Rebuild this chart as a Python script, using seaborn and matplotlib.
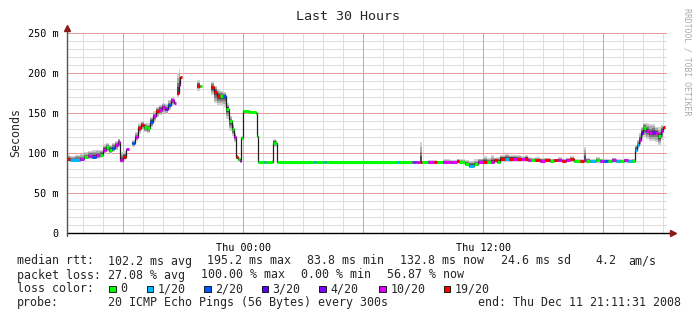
import numpy as np
import pandas as pd
import matplotlib
matplotlib.use("Agg")
import matplotlib.pyplot as plt
import seaborn as sns
from matplotlib.ticker import FixedLocator, FuncFormatter, NullLocator
from matplotlib.patches import Rectangle

# ---- data (hours relative to Thu 00:00, median rtt in ms, loss bucket, smoke range) ----
hours = [-8.80, -8.65, -8.40, -8.15, -7.95, -7.75, -7.55, -7.35, -7.15, -7.00,
         -6.85, -6.70, -6.55, -6.40, -6.25, -6.15, -6.00, -5.85, -5.70, -5.55,
         -5.40, -5.25, -5.10, -4.95, -4.80, -4.65, -4.50, -4.35, -4.20, -4.05,
         -3.90, -3.75, -3.60, -3.45, -3.35, -3.30, -3.22, -3.15, -3.07, -2.30,
         -2.17, -2.05, -1.60, -1.45, -1.30, -1.15, -1.00, -0.85, -0.70, -0.55,
         -0.45, -0.37, -0.27, -0.17, -0.10, 0.00, 0.30, 0.65, 0.70, 0.75,
         1.05, 1.15, 1.45, 1.50, 1.62, 1.67, 3.55, 3.65, 4.05, 4.15,
         7.70, 7.80, 8.45, 8.55, 8.65, 8.85, 8.95, 9.25, 9.55, 9.70,
         10.00, 10.35, 10.70, 10.80, 11.10, 11.30, 11.55, 11.75, 12.00, 12.20,
         12.40, 12.55, 12.70, 12.85, 13.10, 13.30, 13.50, 13.70, 13.90, 14.10,
         14.25, 14.40, 14.60, 14.85, 15.10, 15.35, 15.55, 15.75, 15.95, 16.15,
         16.35, 16.55, 16.85, 17.05, 17.15, 17.35, 17.65, 17.85, 18.05, 18.25,
         18.45, 18.65, 18.85, 19.05, 19.25, 19.45, 19.60, 19.70, 19.80, 19.90,
         20.00, 20.15, 20.30, 20.45, 20.60, 20.75, 20.90, 21.00, 21.10]
nan = float("nan")
median_ms = [92, 91, 91, 92, 95, 96, 95, 97, 98, 104,
             107, 104, 106, 110, 114, 91, 95, 105, nan, 112,
             120, 131, 135, 132, 131, 139, 146, 152, 154, 157,
             155, 160, 166, 162, nan, 175, 185, 195, nan, 184,
             184, nan, 182, 176, 171, 171, 171, 155, 140, 130,
             120, 95, 92, 90, 119, 152, 151, 150, 121, 89,
             89, 89, 89, 113, 112, 89, 89, 89, 89, 89,
             89, 89, 89, 89, 89, 89, 89, 89, 89, 89,
             89, 89, 90, 89, 86, 84, 86, 89, 89, 89,
             89, 91, 89, 93, 93, 93, 93, 92, 92, 93,
             91, 91, 91, 90, 91, 90, 91, 91, 90, 91,
             92, 90, 90, 91, 90, 90, 91, 90, 90, 90,
             91, 90, 90, 91, 90, 90, 104, 110, 116, 125,
             131, 128, 125, 126, 125, 121, 128, 133, nan]
loss = [19, 1, 1, 10, 0, 10, 2, 10, 0, 10,
        0, 0, 2, 10, 10, 10, 19, 10, -1, 2,
        10, 19, 19, 0, 0, 2, 10, 19, 10, 10,
        4, 2, 10, 10, -1, 19, 10, 19, -1, 19,
        0, -1, 19, 19, 19, 0, 2, 0, 0, 0,
        10, 19, 0, 10, 0, 0, 0, 0, 0, 0,
        1, 0, 0, 0, 0, 0, 1, 0, 1, 0,
        1, 0, 10, 2, 10, 19, 0, 10, 19, 0,
        10, 10, 19, 0, 0, 1, 0, 10, 19, 0,
        10, 19, 0, 19, 1, 19, 10, 19, 10, 19,
        10, 0, 19, 10, 19, 0, 19, 10, 19, 10,
        19, 0, 19, 10, 0, 1, 0, 10, 2, 0,
        10, 1, 0, 10, 1, 0, 1, 1, 10, 3,
        0, 10, 10, 4, 10, 0, 10, 19, -1]
smoke_lo = [90, 89, 89, 90, 92, 93, 92, 93, 94, 99,
            101, 99, 101, 104, 107, 88, 91, 101, nan, 108,
            115, 124, 129, 126, 125, 132, 139, 145, 147, 150,
            149, 154, 159, 156, nan, 170, 176, 180, nan, 178,
            178, nan, 172, 162, 160, 160, 158, 143, 128, 121,
            114, 92, 90, 89, 118, 150, 150, 148, 120, 88,
            88, 88, 88, 108, 108, 88, 88, 88, 88, 88,
            88, 88, 88, 88, 88, 88, 88, 88, 88, 88,
            88, 88, 88, 88, 84, 82, 84, 87, 87, 87,
            87, 88, 87, 89, 89, 89, 89, 89, 89, 89,
            89, 89, 89, 88, 89, 88, 89, 89, 88, 89,
            89, 88, 88, 88, 88, 88, 88, 88, 88, 88,
            88, 88, 88, 88, 88, 88, 100, 105, 110, 118,
            120, 118, 115, 115, 114, 110, 116, 120, nan]
smoke_hi = [97, 96, 98, 99, 101, 103, 104, 104, 104, 111,
            113, 110, 113, 115, 118, 101, 102, 108, nan, 116,
            126, 137, 140, 138, 137, 145, 152, 158, 160, 163,
            161, 166, 170, 167, nan, 200, 205, 203, nan, 191,
            190, nan, 190, 184, 180, 178, 176, 162, 146, 136,
            125, 98, 94, 92, 121, 153, 152, 151, 122, 90,
            90, 90, 91, 118, 116, 90, 90, 90, 90, 90,
            90, 90, 90, 90, 90, 114, 90, 91, 91, 90,
            92, 91, 93, 92, 91, 90, 92, 93, 96, 94,
            97, 94, 95, 98, 99, 98, 98, 97, 96, 98,
            95, 94, 95, 94, 94, 93, 93, 95, 93, 94,
            96, 92, 92, 108, 94, 92, 95, 93, 92, 92,
            94, 92, 92, 93, 92, 93, 110, 116, 125, 133,
            138, 137, 136, 136, 133, 132, 135, 136, nan]

loss_levels = [0, 1, 2, 3, 4, 10, 19]
loss_labels = ["0", "1/20", "2/20", "3/20", "4/20", "10/20", "19/20"]
loss_colors = ["#00ff00", "#00b8ff", "#0059ff", "#5e00ff", "#7e00ff", "#dd00ff", "#ff0000"]

y_ticks = [0, 50, 100, 150, 200, 250]
y_labels = ["0", "50 m", "100 m", "150 m", "200 m", "250 m"]
x_major = [-6, 0, 6, 12, 18]
x_label_map = {0: "Thu 00:00", 12: "Thu 12:00"}
x_start, x_end = -8.808, 21.192

title = "Last 30 Hours"
legend_rows = [
    ("median rtt:", [(107.7, "102.2 ms avg"), (206.7, "195.2 ms max"), (306.7, "83.8 ms min"),
                     (400.0, "132.8 ms now"), (501.0, "24.6 ms sd"), (595.0, "4.2"), (628.3, "am/s")]),
    ("packet loss:", [(107.7, "27.08 % avg"), (201.0, "100.00 % max"), (301.0, "0.00 % min"),
                      (386.7, "56.87 % now")]),
]
probe_text = "20 ICMP Echo Pings (56 Bytes) every 300s"
end_text = "end: Thu Dec 11 21:11:31 2008"

# ---- figure ----
sns.set_style("white")
plt.rcParams["font.family"] = ["DejaVu Sans Mono", "DejaVu Sans"]

W, H = 697, 321
fig = plt.figure(figsize=(W / 100, H / 100), dpi=100)
fig.patch.set_facecolor("white")
ax = fig.add_axes([67 / W, (H - 233) / H, 600 / W, 200 / H])
ax.set_facecolor("white")

def fx(x):
    return x / W

def fy(y):
    return 1 - y / H

# grid (drawn explicitly: minor grey, major red)
minor_col, major_col = "#dedede", "#e69a9a"
for h in range(-8, 22):
    if h % 6 != 0:
        ax.axvline(h, color=minor_col, lw=0.72, zorder=0.5, snap=True)
for v in range(10, 251, 10):
    if v % 50 != 0:
        ax.axhline(v, color=minor_col, lw=0.72, zorder=0.5, snap=True)
for h in x_major:
    ax.axvline(h, color=major_col, lw=0.72, zorder=0.6, snap=True)
for v in y_ticks[1:]:
    ax.axhline(v, color=major_col, lw=0.72, zorder=0.6, snap=True)

df = pd.DataFrame({"t": hours, "med": median_ms, "lo": smoke_lo, "hi": smoke_hi, "loss": loss})
df["seg"] = df["med"].isna().cumsum()

# smoke layers
t = df["t"].to_numpy()
med = df["med"].to_numpy()
lo = df["lo"].to_numpy()
hi = df["hi"].to_numpy()
for f, c in zip([1.0, 0.75, 0.5, 0.28], ["#d2d2d2", "#ababab", "#7c7c7c", "#4c4c4c"]):
    ax.fill_between(t, med - f * (med - lo), med + f * (hi - med), step="post",
                    color=c, lw=0, zorder=2)

# median connector line (dark) via seaborn
valid = df.dropna(subset=["med"])
sns.lineplot(data=valid, x="t", y="med", units="seg", estimator=None,
             drawstyle="steps-post", color="#202020", lw=0.9, ax=ax,
             legend=False, zorder=3)

# coloured median segments by loss
cmap = dict(zip(loss_levels, loss_colors))
for i in range(len(df) - 1):
    m = med[i]
    if np.isnan(m) or loss[i] < 0:
        continue
    ax.hlines(m, t[i], t[i + 1], color=cmap[loss[i]], lw=2.2, zorder=4)

ax.set_xlim(x_start, x_end)
ax.set_ylim(0, 250)
ax.grid(False)

ax.xaxis.set_major_locator(FixedLocator(x_major))
ax.xaxis.set_minor_locator(NullLocator())
ax.xaxis.set_major_formatter(FuncFormatter(lambda v, p: x_label_map.get(int(round(v)), "")))
ax.yaxis.set_major_locator(FixedLocator(y_ticks))
ax.yaxis.set_minor_locator(NullLocator())
ax.yaxis.set_major_formatter(FuncFormatter(lambda v, p: y_labels[int(round(v / 50))]))

ax.tick_params(axis="x", which="major", length=3, width=0.8, color="#444444", pad=4,
               labelsize=7.3, labelcolor="black", direction="out")
ax.tick_params(axis="y", which="major", length=2, width=0.8, color="#444444", pad=4,
               labelsize=7.3, labelcolor="black", direction="out")
ax.set_xlabel("")
ax.set_ylabel("")
for s in ax.spines.values():
    s.set_visible(False)

# axes lines and arrows
ax.plot([0, 1.008], [0, 0], transform=ax.transAxes, color="black", lw=1.0, clip_on=False, zorder=6)
ax.plot([0, 0], [-0.015, 1.02], transform=ax.transAxes, color="#555555", lw=1.0, clip_on=False, zorder=6)
ax.plot([1.01], [0], marker=">", ms=4.5, color="#8b1a1a", transform=ax.transAxes, clip_on=False, zorder=7)
ax.plot([0], [1.025], marker="^", ms=4.5, color="#8b1a1a", transform=ax.transAxes, clip_on=False, zorder=7)

# texts
fig.text(fx(348), fy(16), title, ha="center", va="center", fontsize=9.6)
fig.text(fx(16), fy(132), "Seconds", ha="center", va="center", rotation=90, fontsize=8.4)
fig.text(fx(687), fy(8), "RRDTOOL / TOBI OETIKER", ha="center", va="top", rotation=-90,
         fontsize=5.9, color="#aaaaaa")

fs = 8.4
row_y = [261, 275, 288.5, 302.5]
for (lab, items), yy in zip(legend_rows, row_y[:2]):
    fig.text(fx(17), fy(yy), lab, ha="left", va="center", fontsize=fs)
    for xx, s in items:
        fig.text(fx(xx), fy(yy), s, ha="left", va="center", fontsize=fs)

fig.text(fx(17), fy(row_y[2]), "loss color:", ha="left", va="center", fontsize=fs)
box_x = [109.0, 146.7, 204.0, 261.7, 319.3, 379.3, 444.0]
for bx, lab, col in zip(box_x, loss_labels, loss_colors):
    fig.patches.append(Rectangle((fx(bx), fy(row_y[2] + 3.5)), 6.5 / W, 6.5 / H,
                                 transform=fig.transFigure, facecolor=col,
                                 edgecolor="black", lw=0.6))
    fig.text(fx(bx + 11.0), fy(row_y[2]), lab, ha="left", va="center", fontsize=fs)

fig.text(fx(17), fy(row_y[3]), "probe:", ha="left", va="center", fontsize=fs)
fig.text(fx(107.7), fy(row_y[3]), probe_text, ha="left", va="center", fontsize=fs)
fig.text(fx(478.3), fy(row_y[3]), end_text, ha="left", va="center", fontsize=fs)

fig.savefig("out.png", dpi=100)
